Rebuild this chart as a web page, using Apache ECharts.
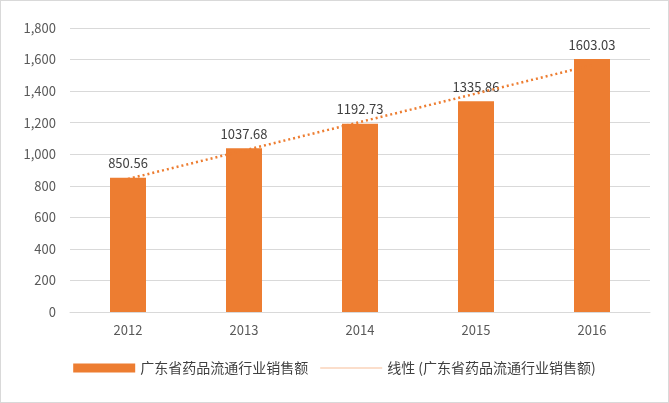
<!DOCTYPE html>
<html><head><meta charset="utf-8">
<script src="https://cdn.jsdelivr.net/npm/echarts@6/dist/echarts.min.js"></script>
<style>html,body{margin:0;padding:0;background:#fff}#main{width:667px;height:401px;border:1px solid #d9d9d9}</style>
</head><body>
<div id="main"></div>
<script>
// 数据
var years = ['2012', '2013', '2014', '2015', '2016'];
var sales = [850.56, 1037.68, 1192.73, 1335.86, 1603.03];
// 线性趋势线
var trend = [843.4, 1023.7, 1204.0, 1384.3, 1564.6];

var myChart = echarts.init(document.getElementById('main'));
var option = {
  animation: false,
  textStyle: { fontFamily: 'Noto Sans CJK SC, sans-serif' },
  grid: { left: 69, right: 18, top: 27, bottom: 90 },
  legend: {
    bottom: 22,
    left: 'center',
    itemWidth: 62,
    itemHeight: 9,
    itemGap: 12,
    textStyle: { color: '#404040', fontSize: 14 },
    data: [
      { name: '广东省药品流通行业销售额', icon: 'rect' },
      { name: '线性 (广东省药品流通行业销售额)', icon: 'path://M0,0 L100,0 L100,1 L0,1 Z' }
    ]
  },
  xAxis: {
    type: 'category',
    data: years,
    axisLine: { lineStyle: { color: '#d9d9d9' } },
    axisTick: { show: false },
    axisLabel: { color: '#595959', fontSize: 13, margin: 12 }
  },
  yAxis: {
    type: 'value',
    min: 0, max: 1800, interval: 200,
    axisLine: { show: false },
    axisTick: { show: false },
    axisLabel: { color: '#595959', fontSize: 13, margin: 14 },
    splitLine: { lineStyle: { color: '#d9d9d9' } }
  },
  series: [
    {
      name: '广东省药品流通行业销售额',
      type: 'bar',
      data: sales,
      barWidth: 36,
      itemStyle: { color: '#ed7d31' },
      label: { show: true, position: 'top', distance: 8, color: '#404040', fontSize: 13 }
    },
    {
      name: '线性 (广东省药品流通行业销售额)',
      type: 'line',
      data: trend,
      symbol: 'none',
      itemStyle: { color: '#ed7d31' },
      lineStyle: { color: '#ed7d31', width: 2.5, type: [2, 3] },
      z: 5
    }
  ]
};
myChart.setOption(option);
</script>
</body></html>
